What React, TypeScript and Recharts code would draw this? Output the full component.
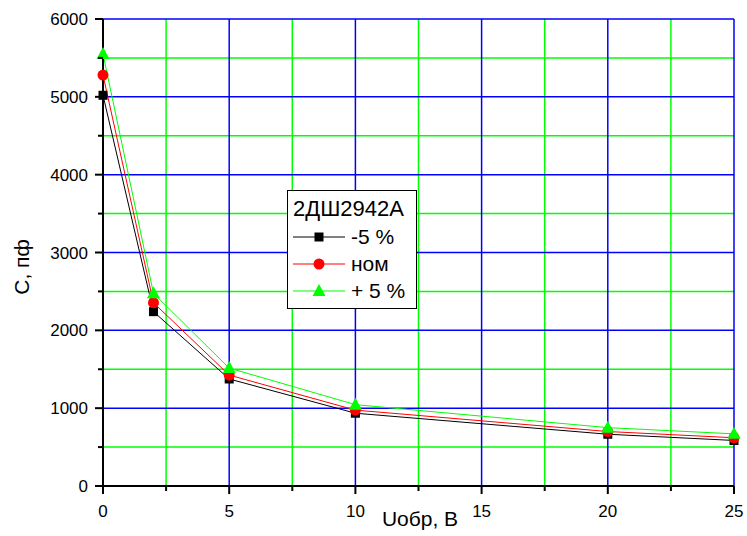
import React from "react";
import { Line, LineChart, ReferenceLine, XAxis, YAxis } from "recharts";

const voltages = [0, 2, 5, 10, 20, 25];
const minus5 = [5020, 2240, 1375, 935, 665, 585];
const nominal = [5280, 2355, 1425, 975, 700, 620];
const plus5 = [5550, 2475, 1515, 1045, 750, 670];

const xTicks = [0, 2.5, 5, 7.5, 10, 12.5, 15, 17.5, 20, 22.5, 25];
const yTicks = [0, 500, 1000, 1500, 2000, 2500, 3000, 3500, 4000, 4500, 5000, 5500, 6000];
const xMajorGrid = [5, 10, 15, 20, 25];
const xMinorGrid = [2.5, 7.5, 12.5, 17.5, 22.5];
const yMajorGrid = [1000, 2000, 3000, 4000, 5000, 6000];
const yMinorGrid = [500, 1500, 2500, 3500, 4500, 5500];

const data = voltages.map((u, i) => ({ u, minus5: minus5[i], nominal: nominal[i], plus5: plus5[i] }));

const FONT = "Arial, 'Liberation Sans', sans-serif";
const tickText = { fontSize: 17, fontFamily: FONT };

function XTick({ x, y, payload }: any) {
  const major = payload.value % 5 === 0;
  return (
    <g>
      <line x1={x} y1={y} x2={x} y2={y + (major ? 8 : 5)} stroke="#000" strokeWidth={2} />
      {major && (
        <text x={x} y={y + 31} textAnchor="middle" fill="#000" style={tickText}>
          {payload.value}
        </text>
      )}
    </g>
  );
}

function YTick({ x, y, payload }: any) {
  const major = payload.value % 1000 === 0;
  return (
    <g>
      <line x1={x} y1={y} x2={x - (major ? 8 : 5)} y2={y} stroke="#000" strokeWidth={2} />
      {major && (
        <text x={x - 15} y={y + 6} textAnchor="end" fill="#000" style={tickText}>
          {payload.value}
        </text>
      )}
    </g>
  );
}

function Square({ cx, cy }: any) {
  return <rect x={cx - 4.5} y={cy - 4.5} width={9} height={9} fill="#000" />;
}
function Circle({ cx, cy }: any) {
  return <circle cx={cx} cy={cy} r={5.5} fill="#ff0000" />;
}
function Triangle({ cx, cy }: any) {
  return <polygon points={`${cx},${cy - 7} ${cx + 6.5},${cy + 5} ${cx - 6.5},${cy + 5}`} fill="#00ff00" />;
}

const legendRows = [
  { label: "-5 %", color: "#000", Mark: Square },
  { label: "ном", color: "#ff0000", Mark: Circle },
  { label: "+ 5 %", color: "#00ff00", Mark: Triangle },
];

export default function App() {
  return (
    <div style={{ position: "absolute", left: 0, top: 0, width: 747, height: 536, background: "#fff", fontFamily: FONT }}>
      <LineChart width={747} height={536} data={data} margin={{ top: 19, right: 13, bottom: 20, left: 43 }}>
        {xMinorGrid.map((v) => (
          <ReferenceLine key={"xm" + v} x={v} stroke="#00ff00" strokeWidth={1.5} />
        ))}
        {yMinorGrid.map((v) => (
          <ReferenceLine key={"ym" + v} y={v} stroke="#00ff00" strokeWidth={1.5} />
        ))}
        {xMajorGrid.map((v) => (
          <ReferenceLine key={"xM" + v} x={v} stroke="#0000ff" strokeWidth={1.5} />
        ))}
        {yMajorGrid.map((v) => (
          <ReferenceLine key={"yM" + v} y={v} stroke="#0000ff" strokeWidth={1.5} />
        ))}
        <XAxis
          dataKey="u"
          type="number"
          domain={[0, 25]}
          ticks={xTicks}
          interval={0}
          height={30}
          tickSize={0}
          tickMargin={0}
          tickLine={false}
          axisLine={{ stroke: "#000", strokeWidth: 2 }}
          tick={<XTick />}
        />
        <YAxis
          type="number"
          domain={[0, 6000]}
          ticks={yTicks}
          interval={0}
          width={60}
          tickSize={0}
          tickMargin={0}
          tickLine={false}
          axisLine={{ stroke: "#000", strokeWidth: 2 }}
          tick={<YTick />}
        />
        <Line dataKey="minus5" stroke="#000" strokeWidth={1} dot={<Square />} isAnimationActive={false} />
        <Line dataKey="nominal" stroke="#ff0000" strokeWidth={1} dot={<Circle />} isAnimationActive={false} />
        <Line dataKey="plus5" stroke="#00ff00" strokeWidth={1} dot={<Triangle />} isAnimationActive={false} />
      </LineChart>

      <div
        style={{
          position: "absolute",
          left: -38,
          top: 254,
          width: 120,
          height: 26,
          lineHeight: "26px",
          textAlign: "center",
          whiteSpace: "nowrap",
          transform: "rotate(-90deg)",
          fontSize: 21,
        }}
      >
        С, пф
      </div>
      <div style={{ position: "absolute", left: 320, top: 507, width: 200, textAlign: "center", fontSize: 21, whiteSpace: "nowrap" }}>
        Uобр, В
      </div>

      <div
        style={{
          position: "absolute",
          left: 287,
          top: 190,
          width: 128,
          height: 117,
          border: "1px solid #000",
          background: "#fff",
          fontSize: 21,
          whiteSpace: "nowrap",
        }}
      >
        <div style={{ position: "absolute", left: 5, top: 5, fontSize: 22 }}>2ДШ2942А</div>
        {legendRows.map((r, i) => (
          <div key={r.label} style={{ position: "absolute", left: 5, top: 34 + i * 27, height: 24, display: "flex", alignItems: "center" }}>
            <svg width={52} height={24}>
              <line x1={0} y1={12} x2={52} y2={12} stroke={r.color} strokeWidth={1} />
              <r.Mark cx={26} cy={12} />
            </svg>
            <span style={{ marginLeft: 6 }}>{r.label}</span>
          </div>
        ))}
      </div>
    </div>
  );
}
